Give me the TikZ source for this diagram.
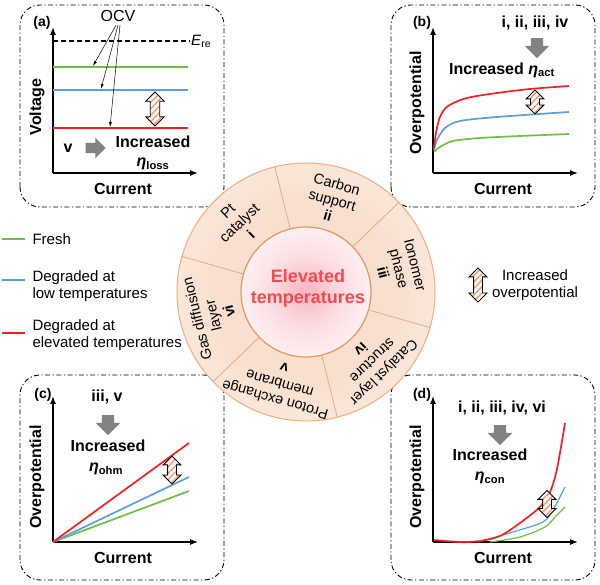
\documentclass[tikz,border=0pt]{standalone}
\usepackage{fontspec}
\setmainfont{Liberation Sans}
\usetikzlibrary{
arrows,
arrows.meta,
calc,
patterns.meta,
positioning,
shapes.arrows
}
\tikzset{>=latex}

\definecolor{freshgreen}{RGB}{112,190,68}
\definecolor{lowblue}{RGB}{92,160,218}
\definecolor{hotred}{RGB}{242,32,32}
\definecolor{hatchorange}{RGB}{240,155,105}
\definecolor{ringedge}{RGB}{242,172,128}
\definecolor{segedge}{RGB}{225,165,125}
\definecolor{coreedge}{RGB}{228,150,100}
\definecolor{ringin}{RGB}{249,224,206}
\definecolor{ringout}{RGB}{253,242,235}
\definecolor{corepink}{RGB}{247,180,192}
\definecolor{corehalf}{RGB}{252,222,226}
\definecolor{hottext}{RGB}{240,75,80}
\definecolor{arrowgray}{RGB}{130,130,130}

\pgfdeclareradialshading{ringglow}{\pgfpointorigin}{color(0bp)=(ringin); color(18bp)=(ringin); color(36bp)=(ringout); color(50bp)=(ringout)}
\pgfdeclareradialshading{hotcore}{\pgfpointorigin}{color(0bp)=(corepink); color(14bp)=(corehalf); color(35bp)=(white); color(50bp)=(white)}

\begin{document}
\begin{tikzpicture}[x=1pt, y=1pt, font=\fontsize{15}{17}\selectfont,
    panelbox/.style={draw, line width=0.9pt, rounded corners=20pt, dash pattern=on 5pt off 2.5pt on 1.2pt off 2.5pt},
    axis/.style={-{Latex[length=8pt,width=6pt]}, line width=1.3pt},
    tag/.style={font=\fontsize{14}{16}\selectfont\bfseries},
    axlabel/.style={font=\fontsize{16}{19}\selectfont\bfseries},
    bigtext/.style={font=\fontsize{16}{19}\selectfont\bfseries, inner sep=1pt},
    fresh/.style={freshgreen, line width=1.7pt},
    lowdeg/.style={lowblue, line width=1.7pt},
    hot/.style={hotred, line width=1.7pt},
    ocvarrow/.style={-{Latex[length=5pt,width=3pt]}, line width=0.5pt},
    incarrow/.style={double arrow, draw, line width=0.8pt, rotate=90, inner sep=4pt,
        double arrow head extend=4.5pt, preaction={fill=white},
        pattern={Lines[angle=45,distance=4.5pt,line width=1.4pt]}, pattern color=hatchorange},
    grayarrow/.style={single arrow, fill=arrowgray, inner sep=6pt, single arrow head extend=6pt, minimum height=20pt},
    segline/.style={segedge, line width=0.7pt},
    segtext/.style={align=center, font=\fontsize{14.5}{16.5}\selectfont},
    hottitle/.style={align=center, text=hottext, font=\fontsize{18}{21}\selectfont\bfseries}]
    \useasboundingbox (0,0) rectangle (600,584);

    % (a) voltage
    \draw[panelbox] (20,377) rectangle (224,579);
    \node[tag] (tagA) at (42,561) {(a)};
    \coordinate (aO) at (53,411);
    \draw[axis] (aO) -- ++(0,146);
    \draw[axis] (aO) -- ++(145,0);
    \node[axlabel, rotate=90] (voltA) at (37,477) {Voltage};
    \node[axlabel] (curA) at (123,395) {Current};
    \draw[dashed, line width=1.2pt, dash pattern=on 5pt off 3pt] (53,543) -- (190,543);
    \node[anchor=west, inner sep=1pt] (ere) at (190,543) {\textit{E}\textsubscript{re}};
    \draw[fresh] (53,517) -- (188,517);
    \draw[lowdeg] (53,494) -- (188,494);
    \draw[hot] (53,456) -- (188,456);
    \node[font=\fontsize{16}{19}\selectfont] (ocv) at (118,568) {OCV};
    \coordinate (ocvG) at (93,518);
    \coordinate (ocvB) at (101,495);
    \coordinate (ocvR) at (110,457);
    \draw[ocvarrow] ([xshift=-2pt]ocv.south) -- (ocvG);
    \draw[ocvarrow] (ocv.south) -- (ocvB);
    \draw[ocvarrow] ([xshift=2pt]ocv.south) -- (ocvR);
    \node[incarrow, minimum height=34pt] (incA) at (155,475) {};
    \node[bigtext] (romA) at (68,436) {v};
    \node[grayarrow, inner sep=5pt, single arrow head extend=5pt] (gaA) at (93,436) {};
    \node[bigtext] (txtA) at (153,442) {Increased};
    \node[bigtext] (etaA) at (153,420) {{\itshape η}\textsubscript{loss}};

    % (b) activation
    \draw[panelbox] (391,377) rectangle (595,579);
    \node[tag] (tagB) at (422,561) {(b)};
    \coordinate (bO) at (433,411);
    \draw[axis] (bO) -- ++(0,146);
    \draw[axis] (bO) -- ++(145,0);
    \node[axlabel, rotate=90] (overB) at (417,481) {Overpotential};
    \node[axlabel] (curB) at (503,395) {Current};
    \node[bigtext] (romB) at (535,561) {i, ii, iii, iv};
    \node[grayarrow, rotate=-90] (gaB) at (537,539) {};
    \node[bigtext] (txtB) at (502,514) {Increased {\itshape η}\textsubscript{act}};
    \draw[fresh] plot[smooth] coordinates {(434,432) (440,437) (453,443) (480,446) (520,448) (569,450)};
    \draw[lowdeg] plot[smooth] coordinates {(434,434) (437,444) (445,456) (460,463) (497,467) (569,472)};
    \draw[hot] plot[smooth] coordinates {(434,436) (436,451) (440,467) (448,478) (467,486) (497,491) (530,495) (569,498)};
    \node[incarrow, minimum height=24pt] (incB) at (535,482) {};

    % (c) ohmic
    \draw[panelbox] (20,4) rectangle (224,209);
    \node[tag] (tagC) at (43,189) {(c)};
    \coordinate (cO) at (53,42);
    \draw[axis] (cO) -- ++(0,146);
    \draw[axis] (cO) -- ++(145,0);
    \node[axlabel, rotate=90] (overC) at (37,107) {Overpotential};
    \node[axlabel] (curC) at (123,26) {Current};
    \node[bigtext] (romC) at (107,187) {iii, v};
    \node[grayarrow, rotate=-90] (gaC) at (108,162) {};
    \node[bigtext] (txtC) at (108,138) {Increased};
    \node[bigtext] (etaC) at (106,115) {{\itshape η}\textsubscript{ohm}};
    \draw[fresh] (cO) -- (189,93);
    \draw[lowdeg] (cO) -- (189,107);
    \draw[hot] (cO) -- (189,141);
    \node[incarrow, minimum height=28pt] (incC) at (172,114) {};

    % (d) concentration
    \draw[panelbox] (391,4) rectangle (595,209);
    \node[tag] (tagD) at (422,189) {(d)};
    \coordinate (dO) at (433,42);
    \draw[axis] (dO) -- ++(0,146);
    \draw[axis] (dO) -- ++(145,0);
    \node[axlabel, rotate=90] (overD) at (417,107) {Overpotential};
    \node[axlabel] (curD) at (503,26) {Current};
    \node[bigtext] (romD) at (502,176) {i, ii, iii, iv, vi};
    \node[grayarrow, rotate=-90] (gaD) at (500,152) {};
    \node[bigtext] (txtD) at (490,129) {Increased};
    \node[bigtext] (etaD) at (490,106) {{\itshape η}\textsubscript{con}};
    \draw[fresh, line width=1.2pt] plot[smooth] coordinates {(490,42) (520,47) (545,57) (555,67) (565,77)};
    \draw[lowdeg, line width=1.2pt] plot[smooth] coordinates {(478,42) (513,52) (543,62) (553,74) (565,97)};
    \draw[hot] plot[smooth] coordinates {(434,44) (460,42) (480,43) (500,48) (520,61) (540,77) (550,92) (557,115) (565,161)};
    \node[incarrow, minimum height=27pt] (incD) at (547,80) {};

    % legend
    \draw[fresh] (2,345) -- (25,345);
    \node[anchor=west] (lgFresh) at (29,345) {Fresh};
    \draw[lowdeg] (2,304) -- (25,304);
    \node[anchor=west, align=left] (lgLow) at (29,298) {Degraded at\\low temperatures};
    \draw[hot] (2,251) -- (25,251);
    \node[anchor=west, align=left] (lgHot) at (29,249) {Degraded at\\elevated temperatures};
    \node[incarrow, minimum height=34pt] (lgInc) at (478,299) {};
    \node[align=center] (lgIncTxt) at (535,299) {Increased\\overpotential};

    % components wheel
    \coordinate (ctr) at (306,292);
    \path[shade, shading=ringglow, draw=ringedge, line width=1pt] (ctr) circle (129);
    \foreach \ang in {44,104,...,344}
        \draw[segline] ([shift={(\ang:65)}]ctr) -- ([shift={(\ang:129)}]ctr);
    \foreach \ang/\txt [count=\k] in {
        134/{Pt\\catalyst\\\textbf{i}},
        74/{Carbon\\support\\\textbf{ii}},
        14/{Ionomer\\phase\\\textbf{iii}},
        -46/{Catalyst layer\\structure\\\textbf{iv}},
        -106/{Proton exchange\\membrane\\\textbf{v}},
        194/{Gas diffusion\\layer\\\textbf{vi}}}
        \node[segtext, rotate=\ang-90] (seg\k) at ([shift={(\ang:96)}]ctr) {\txt};
    \path[shade, shading=hotcore, draw=coreedge, line width=1.2pt] (ctr) circle (65);
    \node[hottitle] (core) at (308,296) {Elevated\\temperatures};
\end{tikzpicture}
\end{document}
